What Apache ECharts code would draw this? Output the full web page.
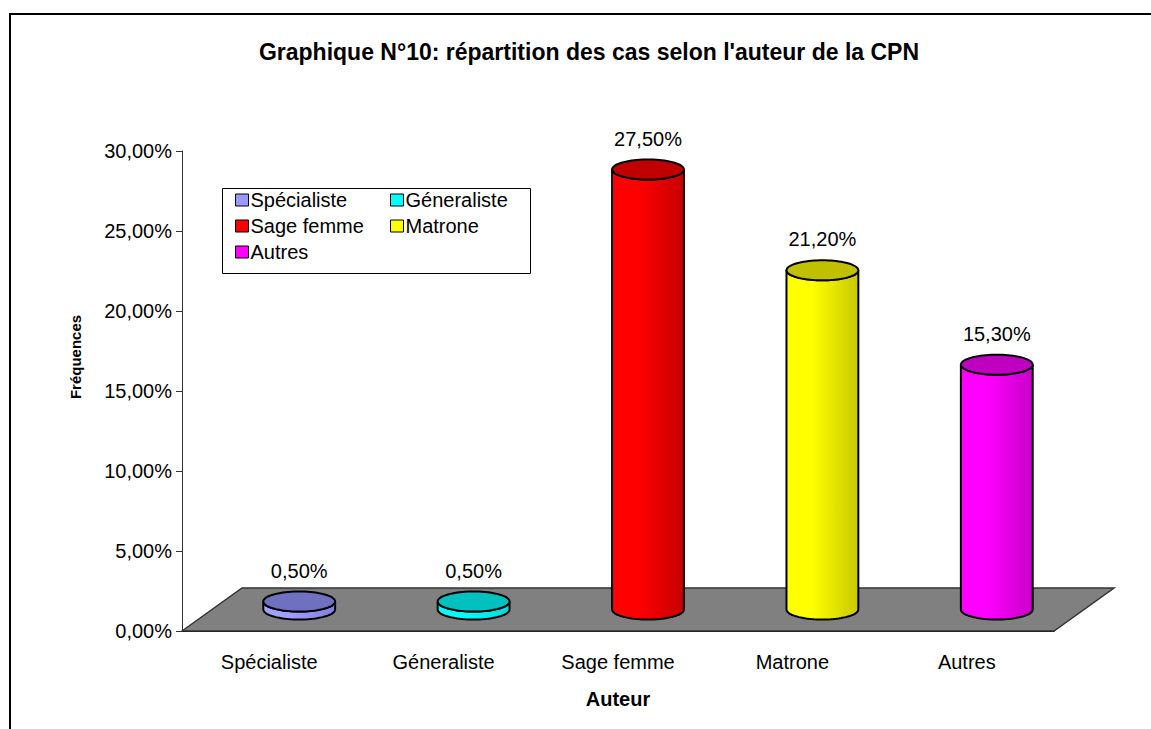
<!DOCTYPE html>
<html>
<head>
<meta charset="utf-8">
<script src="https://cdn.jsdelivr.net/npm/echarts@6/dist/echarts.min.js"></script>
<style>
html, body { margin: 0; padding: 0; background: #fff; }
#chart { width: 1151px; height: 729px; }
</style>
</head>
<body>
<div id="chart"></div>
<script>
// data
const categories = ['Spécialiste', 'Géneraliste', 'Sage femme', 'Matrone', 'Autres'];
const values = [0.5, 0.5, 27.5, 21.2, 15.3];
const yTicks = [0, 5, 10, 15, 20, 25, 30];

// colours: side light / side dark / top
const sideLight = ['#a0a0ff', '#00ffff', '#ff0000', '#ffff00', '#ff00ff'];
const sideDark = ['#8080e0', '#00d8d8', '#c80000', '#c8c800', '#c800c8'];
const topColor = ['#7070c0', '#00c0c0', '#c00000', '#c0c000', '#c000c0'];
const legendColor = ['#9999ff', '#00ffff', '#ff0000', '#ffff00', '#ff00ff'];

const FONT = 'Liberation Sans, Arial, sans-serif';
const DX = 60, DY = 43; // floor depth

function fmt(v) {
  return v.toFixed(2).replace('.', ',') + '%';
}

function arc(cx, cy, rx, ry, t0, t1, n) {
  const pts = [];
  for (let k = 0; k <= n; k++) {
    const t = t0 + (t1 - t0) * k / n;
    pts.push([cx + rx * Math.cos(t), cy + ry * Math.sin(t)]);
  }
  return pts;
}

function renderFloor(params, api) {
  const p0 = api.coord([0, 0]);
  const bw = api.size([1, 0])[0];
  const left = p0[0] - bw / 2;
  const right = api.coord([categories.length - 1, 0])[0] + bw / 2;
  const y0 = p0[1];
  return {
    type: 'polygon',
    shape: { points: [[left, y0], [left + DX, y0 - DY], [right + DX, y0 - DY], [right, y0]] },
    style: { fill: '#808080', stroke: '#333', lineWidth: 1.5 },
    silent: true
  };
}

function makeRender(i) {
  return function (params, api) {
    const p = api.coord([api.value(0), api.value(1)]);
    const p0 = api.coord([api.value(0), 0]);
    const bw = api.size([1, 0])[0];
    const cx = p[0] + DX / 2;
    const base = p0[1] - DY / 2;
    const top = base - (p0[1] - p[1]);
    const rx = bw * 0.206;
    const ry = 10;
    let side = [[cx - rx, top]];
    side = side.concat(arc(cx, base, rx, ry, Math.PI, 0, 40));
    side = side.concat(arc(cx, top, rx, ry, 0, Math.PI, 40));
    return {
      type: 'group',
      children: [
        {
          type: 'polygon',
          shape: { points: side },
          style: {
            fill: {
              type: 'linear', x: 0, y: 0, x2: 1, y2: 0,
              colorStops: [
                { offset: 0, color: sideLight[i] },
                { offset: 0.35, color: sideLight[i] },
                { offset: 1, color: sideDark[i] }
              ]
            },
            stroke: '#000', lineWidth: 2
          }
        },
        {
          type: 'polygon',
          shape: { points: arc(cx, top, rx, ry, 0, Math.PI * 2, 80) },
          style: { fill: topColor[i], stroke: '#000', lineWidth: 2 }
        },
        {
          type: 'text',
          x: cx,
          y: top - 31,
          style: {
            text: fmt(values[i]),
            fill: '#000',
            font: '20px ' + FONT,
            align: 'center',
            verticalAlign: 'middle'
          }
        }
      ]
    };
  };
}

const series = [{
  type: 'custom',
  name: 'floor',
  silent: true,
  z: 1,
  renderItem: renderFloor,
  data: [[0, 0]]
}];
categories.forEach(function (c, i) {
  series.push({
    type: 'custom',
    name: c,
    z: 3,
    itemStyle: { color: legendColor[i] },
    renderItem: makeRender(i),
    encode: { x: 0, y: 1 },
    data: [[i, values[i]]]
  });
});

const legendCommon = {
  orient: 'vertical',
  icon: 'rect',
  itemWidth: 13,
  itemHeight: 12,
  itemGap: 6,
  padding: 0,
  selectedMode: false,
  itemStyle: { borderColor: '#000', borderWidth: 1 },
  textStyle: { fontSize: 20, color: '#000', fontFamily: FONT, padding: [0, 0, 0, -3] }
};

const option = {
  animation: false,
  backgroundColor: '#fff',
  title: {
    text: "Graphique N°10: répartition des cas selon l'auteur de la CPN",
    left: 589,
    textAlign: 'center',
    top: 40,
    padding: 0,
    textStyle: { fontSize: 23, fontWeight: 'bold', color: '#000', fontFamily: FONT }
  },
  legend: [
    Object.assign({}, legendCommon, { data: ['Spécialiste', 'Sage femme', 'Autres'], left: 235, top: 190 }),
    Object.assign({}, legendCommon, { data: ['Géneraliste', 'Matrone'], left: 390, top: 190 })
  ],
  graphic: [
    {
      type: 'rect',
      z: -1,
      shape: { x: 10, y: 14, width: 1200, height: 800 },
      style: { fill: 'none', stroke: '#000', lineWidth: 2 }
    },
    {
      type: 'rect',
      z: 1,
      shape: { x: 222.5, y: 188.5, width: 308, height: 85 },
      style: { fill: '#fff', stroke: '#000', lineWidth: 1 }
    }
  ],
  grid: { left: 182, right: 97, top: 151, bottom: 98 },
  xAxis: {
    type: 'category',
    data: categories,
    name: 'Auteur',
    nameLocation: 'middle',
    nameGap: 58,
    nameTextStyle: { fontSize: 20, fontWeight: 'bold', color: '#000', fontFamily: FONT },
    axisLine: { lineStyle: { color: '#000', width: 1 } },
    axisTick: { length: 9, lineStyle: { color: '#000' } },
    axisLabel: { fontSize: 20, color: '#000', margin: 21, fontFamily: FONT },
    splitLine: { show: false }
  },
  yAxis: {
    type: 'value',
    min: yTicks[0],
    max: yTicks[yTicks.length - 1],
    interval: yTicks[1] - yTicks[0],
    name: 'Fréquences',
    nameLocation: 'middle',
    nameGap: 99,
    nameRotate: 90,
    nameTextStyle: { fontSize: 15, fontWeight: 'bold', color: '#000', fontFamily: FONT, padding: [0, 0, 0, 68] },
    axisLine: { show: true, lineStyle: { color: '#333', width: 1 } },
    axisTick: { show: true, length: 6, lineStyle: { color: '#333' } },
    axisLabel: { fontSize: 20, color: '#000', margin: 10, fontFamily: FONT, formatter: fmt },
    splitLine: { show: false }
  },
  series: series
};

const chart = echarts.init(document.getElementById('chart'), null, { renderer: 'svg' });
chart.setOption(option);
</script>
</body>
</html>
